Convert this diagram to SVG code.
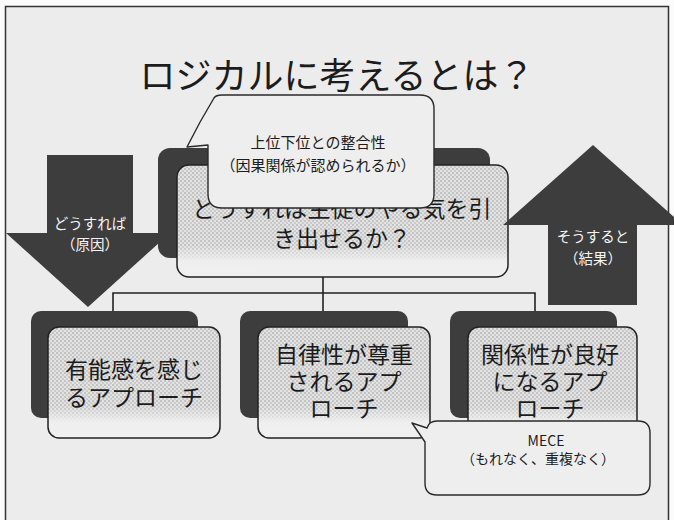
<svg xmlns="http://www.w3.org/2000/svg" width="674" height="520" viewBox="0 0 674 520">
<defs>
<pattern id="dots" width="4" height="4" patternUnits="userSpaceOnUse">
<rect width="4" height="4" fill="#e2e2e2"/>
<circle cx="1" cy="1" r="0.75" fill="#8f8f8f"/>
<circle cx="3" cy="3" r="0.75" fill="#a5a5a5"/>
</pattern>
<linearGradient id="fade" x1="0" y1="0" x2="0" y2="1">
<stop offset="0" stop-color="#f0f0f0" stop-opacity="0"/>
<stop offset="0.72" stop-color="#f0f0f0" stop-opacity="0.05"/>
<stop offset="0.86" stop-color="#f0f0f0" stop-opacity="0.95"/>
<stop offset="1" stop-color="#f0f0f0" stop-opacity="1"/>
</linearGradient>
</defs>
<style>
.bg{fill:#ececec;stroke:#333;stroke-width:1.5}
.back{fill:#3d3d3d}
.dots{fill:url(#dots)}
.face{fill:url(#fade);stroke:#222;stroke-width:1.5}
.arrow{fill:#3d3d3d}
.call{fill:#eeeeee;stroke:#2a2a2a;stroke-width:1.4;stroke-linejoin:round}
.conn{fill:none;stroke:#222;stroke-width:1.6}
text{font-family:"Noto Sans CJK JP","Noto Sans",sans-serif;text-anchor:middle;dominant-baseline:central;fill:#1c1c1c}
.title{font-size:36px}
.node{font-size:23px}
.atx{font-size:14.5px;fill:#f4f4f4}
.ctx{font-size:15px}
.mtx{font-size:14px}
</style>
<rect width="674" height="520" fill="#fbfbfb"/>
<rect class="bg" x="5.5" y="6.5" width="663" height="530"/>
<text class="title" x="337" y="73">ロジカルに考えるとは？</text>

<g id="connectors">
<path class="conn" d="M323,277 V311 M113,311 V293 H535 V311"/>
</g>

<g id="node-main">
<rect class="back" x="158" y="148" width="332" height="110" rx="12"/>
<rect class="dots" x="177" y="165" width="331" height="112" rx="12"/>
<rect class="face" x="177" y="165" width="331" height="112" rx="12"/>
<text class="node" x="342" y="207">どうすれば生徒のやる気を引<tspan x="342" dy="30">き出せるか？</tspan></text>
</g>

<g id="node-competence">
<rect class="back" x="31" y="311" width="167" height="107" rx="10"/>
<rect class="dots" x="48" y="327" width="172" height="111" rx="11"/>
<rect class="face" x="48" y="327" width="172" height="111" rx="11"/>
<text class="node" x="134" y="368">有能感を感じ<tspan x="134" dy="28">るアプローチ</tspan></text>
</g>

<g id="node-autonomy">
<rect class="back" x="240" y="311" width="168" height="107" rx="10"/>
<rect class="dots" x="258" y="327" width="172" height="111" rx="11"/>
<rect class="face" x="258" y="327" width="172" height="111" rx="11"/>
<text class="node" x="344" y="353">自律性が尊重<tspan x="344" dy="27">されるアプ</tspan><tspan x="344" dy="27">ローチ</tspan></text>
</g>

<g id="node-relatedness">
<rect class="back" x="450" y="311" width="167" height="107" rx="10"/>
<rect class="dots" x="468" y="327" width="169" height="111" rx="11"/>
<rect class="face" x="468" y="327" width="169" height="111" rx="11"/>
<text class="node" x="550" y="353">関係性が良好<tspan x="550" dy="27">になるアプ</tspan><tspan x="550" dy="27">ローチ</tspan></text>
</g>

<g id="arrow-cause">
<polygon class="arrow" points="47,155 133,155 133,233 170,233 88,307 6,233 47,233"/>
<text class="atx" x="90" y="222">どうすれば<tspan x="90" dy="21">（原因）</tspan></text>
</g>

<g id="arrow-result">
<polygon class="arrow" points="593,145 683,225 637,225 637,305 548,305 548,225 503,225"/>
<text class="atx" x="593" y="235">そうすると<tspan x="593" dy="22">（結果）</tspan></text>
</g>

<g id="callout-consistency">
<path class="call" d="M222,95 H420 Q434,95 434,109 V194 Q434,208 420,208 H222 Q208,208 208,194 V145 L187,147 Q200,121 214,98 Q216,95 222,95 Z"/>
<text class="ctx" x="318" y="141">上位下位との整合性<tspan x="318" dy="23">（因果関係が認められるか）</tspan></text>
</g>

<g id="callout-mece">
<path class="call" d="M437,421 H638 Q650,421 650,433 V483 Q650,495 638,495 H437 Q425,495 425,483 V442 L412,423 L427,428 Q429,421 437,421 Z"/>
<text class="mtx" x="546" y="440">MECE<tspan x="538" dy="18">（もれなく、重複なく）</tspan></text>
</g>
</svg>
